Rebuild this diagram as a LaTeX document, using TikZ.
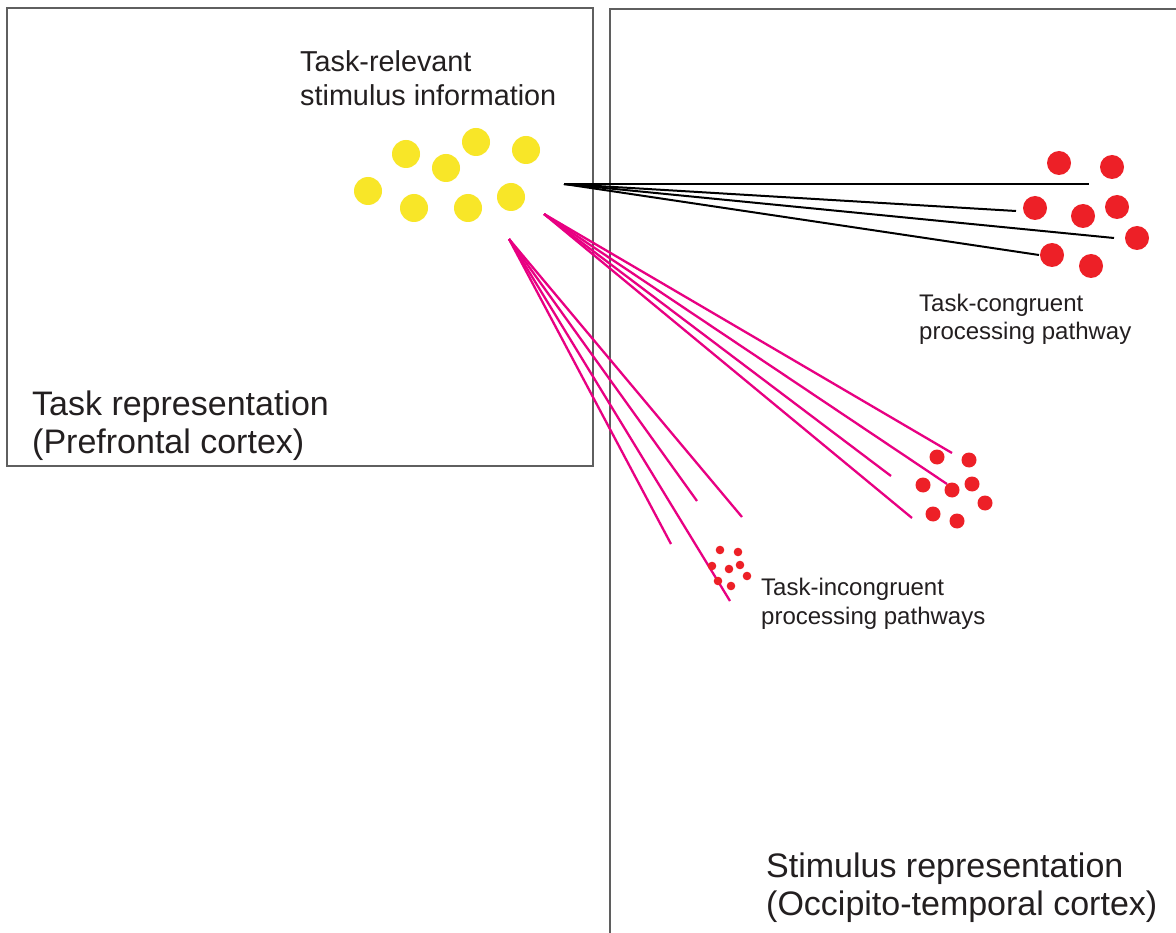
\documentclass[tikz,border=0pt]{standalone}
\usepackage{fontspec}
\setmainfont{Liberation Sans}
\definecolor{boxgray}{RGB}{95,95,95}
\definecolor{dotyellow}{RGB}{248,230,40}
\definecolor{dotred}{RGB}{237,32,39}
\definecolor{pathpink}{RGB}{232,0,130}
\definecolor{txt}{RGB}{35,31,32}
\tikzset{
  region/.style={draw=boxgray, line width=1.3pt},
  ydot/.style={circle, fill=dotyellow, inner sep=0pt, minimum size=28pt},
  rdotL/.style={circle, fill=dotred, inner sep=0pt, minimum size=24pt},
  rdotM/.style={circle, fill=dotred, inner sep=0pt, minimum size=15pt},
  rdotS/.style={circle, fill=dotred, inner sep=0pt, minimum size=8.6pt},
  congline/.style={draw=black, line width=2pt},
  incline/.style={draw=pathpink, line width=2.3pt},
  biglabel/.style={anchor=base west, inner sep=0pt, align=left, text=txt, font=\fontsize{34}{38}\selectfont},
  midlabel/.style={anchor=base west, inner sep=0pt, align=left, text=txt, font=\fontsize{28.8}{34}\selectfont},
  smalllabel/.style={anchor=base west, inner sep=0pt, align=left, text=txt, font=\fontsize{24}{28.5}\selectfont}
}
\begin{document}
\begin{tikzpicture}[x=1pt, y=-1pt]
\useasboundingbox (0,0) rectangle (1176,933);
\fill[white] (0,0) rectangle (1176,933);

% regions
\draw[region] (7,8) rectangle (593,466);
\coordinate (r2a) at (610,933);
\coordinate (r2b) at (610,9);
\coordinate (r2c) at (1176,9);
\draw[region] (r2a) -- (r2b) -- (r2c);

% labels (anchor = baseline of the last line)
\node[midlabel] (lblrel) at (300,106) {Task-relevant\\stimulus information};
\node[biglabel] (lbltask) at (32,453) {Task representation\\(Prefrontal cortex)};
\node[biglabel] (lblstim) at (766,915) {Stimulus representation\\(Occipito-temporal cortex)};
\node[smalllabel] (lblcong) at (919,340) {Task-congruent\\processing pathway};
\node[smalllabel] (lblinc) at (761,624) {Task-incongruent\\processing pathways};

% sources of pathways
\coordinate (srcK) at (564,184);
\coordinate (srcA) at (544,214);
\coordinate (srcB) at (509,239);

% ends of congruent pathway
\coordinate (k1) at (1089,184);
\coordinate (k2) at (1016,211);
\coordinate (k3) at (1114,238);
\coordinate (k4) at (1039,255);
% ends of incongruent pathways (upper fan)
\coordinate (a1) at (952,453);
\coordinate (a2) at (891,476);
\coordinate (a3) at (947,484);
\coordinate (a4) at (912,518);
% ends of incongruent pathways (lower fan)
\coordinate (b1) at (671,544);
\coordinate (b2) at (697,501);
\coordinate (b3) at (742,517);
\coordinate (b4) at (730,601);

\foreach \e in {k1,k2,k3,k4} \draw[congline] (srcK) -- (\e);
\foreach \e in {a1,a2,a3,a4} \draw[incline] (srcA) -- (\e);
\foreach \e in {b1,b2,b3,b4} \draw[incline] (srcB) -- (\e);

% yellow: task-relevant stimulus information
\node[ydot] (y1) at (368,191) {};
\node[ydot] (y2) at (406,154) {};
\node[ydot] (y3) at (446,168) {};
\node[ydot] (y4) at (476,142) {};
\node[ydot] (y5) at (526,150) {};
\node[ydot] (y6) at (414,208) {};
\node[ydot] (y7) at (468,208) {};
\node[ydot] (y8) at (511,197) {};

% red: congruent cluster
\node[rdotL] (c1) at (1059,163) {};
\node[rdotL] (c2) at (1112,167) {};
\node[rdotL] (c3) at (1035,208) {};
\node[rdotL] (c4) at (1083,216) {};
\node[rdotL] (c5) at (1117,207) {};
\node[rdotL] (c6) at (1137,238) {};
\node[rdotL] (c7) at (1052,255) {};
\node[rdotL] (c8) at (1091,266) {};

% red: incongruent cluster (middle)
\node[rdotM] (m1) at (937,457) {};
\node[rdotM] (m2) at (969,460) {};
\node[rdotM] (m3) at (923,485) {};
\node[rdotM] (m4) at (952,490) {};
\node[rdotM] (m5) at (972,484) {};
\node[rdotM] (m6) at (985,503) {};
\node[rdotM] (m7) at (933,514) {};
\node[rdotM] (m8) at (957,521) {};

% red: incongruent cluster (small)
\node[rdotS] (s1) at (720,550) {};
\node[rdotS] (s2) at (738,552) {};
\node[rdotS] (s3) at (712,566) {};
\node[rdotS] (s4) at (729,569) {};
\node[rdotS] (s5) at (740,565) {};
\node[rdotS] (s6) at (747,576) {};
\node[rdotS] (s7) at (718,581) {};
\node[rdotS] (s8) at (731,586) {};
\end{tikzpicture}
\end{document}
